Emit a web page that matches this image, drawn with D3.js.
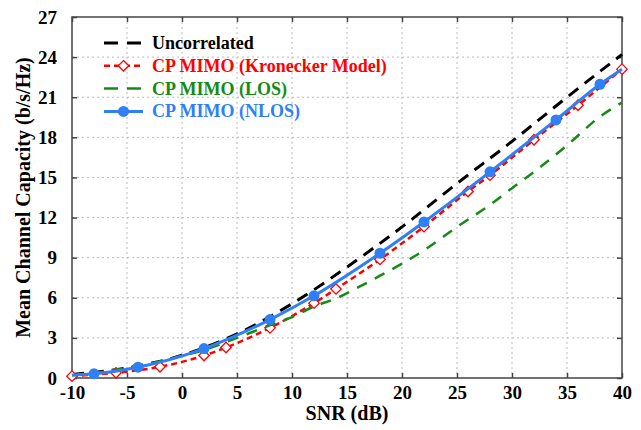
<!DOCTYPE html>
<html>
<head>
<meta charset="utf-8">
<script src="https://cdn.jsdelivr.net/npm/d3@7"></script>
<style>
  body { margin: 0; background: #fff; }
  text { font-family: "Liberation Serif", "Times New Roman", serif; font-weight: bold; }
</style>
</head>
<body>
<div id="my_dataviz"></div>
<script>
// data
var xTicks = [-10, -5, 0, 5, 10, 15, 20, 25, 30, 35, 40];
var yTicks = [0, 3, 6, 9, 12, 15, 18, 21, 24, 27];

var snrUncorr = [-10, -5, 0, 5, 10, 15, 20, 25, 30, 35, 40];
var capUncorr = [0.27, 0.75, 1.7, 3.3, 5.55, 8.3, 11.3, 14.55, 17.7, 21.0, 24.2];

var snrKron = [-10, -6, -2, 2, 4, 8, 12, 14, 18, 22, 26, 28, 32, 36, 40];
var capKron = [0.14, 0.39, 0.84, 1.68, 2.28, 3.75, 5.6, 6.66, 8.87, 11.32, 13.95, 15.17, 17.82, 20.4, 23.1];

var snrLos = [-10, -5, 0, 2, 5, 8, 10, 12, 14, 16, 18, 20, 22, 25, 28, 30, 32, 35, 38, 40];
var capLos = [0.2, 0.75, 1.65, 2.1, 3.0, 3.95, 4.55, 5.35, 5.95, 6.77, 7.65, 8.55, 9.55, 11.3, 12.95, 14.2, 15.42, 17.4, 19.55, 20.6];

var snrNlos = [-10, -8, -4, 2, 8, 12, 18, 22, 28, 34, 38, 40];
var capNlos = [0.2, 0.31, 0.81, 2.2, 4.37, 6.15, 9.33, 11.67, 15.42, 19.3, 21.97, 23.1];
var nlosMarkers = [-8, -4, 2, 8, 12, 18, 22, 28, 34, 38];

var series = [
  {name: "Uncorrelated", x: snrUncorr, y: capUncorr, color: "#000000", dash: "12,8", width: 3, marker: null},
  {name: "CP MIMO (Kronecker Model)", x: snrKron, y: capKron, color: "#ff0000", dash: "6,4", width: 2.5, marker: "diamond", markAt: snrKron},
  {name: "CP MIMO (LOS)", x: snrLos, y: capLos, color: "#168a16", dash: "11,9", width: 2.5, marker: null},
  {name: "CP MIMO (NLOS)", x: snrNlos, y: capNlos, color: "#2f7ff7", dash: null, width: 3, marker: "circle", markAt: nlosMarkers}
];

// set the dimensions and margins of the graph
var margin = {top: 17, right: 19, bottom: 52, left: 72},
    width = 641 - margin.left - margin.right,
    height = 430 - margin.top - margin.bottom;

var svg = d3.select("#my_dataviz")
  .append("svg")
    .attr("width", 641)
    .attr("height", 430)
  .append("g")
    .attr("transform", "translate(" + margin.left + "," + margin.top + ")");

var x = d3.scaleLinear().domain([-10, 40]).range([0, width]);
var y = d3.scaleLinear().domain([0, 27]).range([height, 0]);

// grid
svg.append("g").selectAll("line").data(xTicks.slice(1, -1)).enter().append("line")
  .attr("x1", function(d) { return x(d); }).attr("x2", function(d) { return x(d); })
  .attr("y1", 0).attr("y2", height)
  .attr("stroke", "#bbb").attr("stroke-width", 1).attr("stroke-dasharray", "2,3");
svg.append("g").selectAll("line").data(yTicks.slice(1, -1)).enter().append("line")
  .attr("y1", function(d) { return y(d); }).attr("y2", function(d) { return y(d); })
  .attr("x1", 0).attr("x2", width)
  .attr("stroke", "#bbb").attr("stroke-width", 1).attr("stroke-dasharray", "2,3");

// axes, ticks pointing inward on all sides
var plain = function(d) { return String(d); };
function styleAxis(g) {
  g.select(".domain").remove();
  g.selectAll(".tick line").attr("stroke", "#444").attr("stroke-width", 1.5);
  g.selectAll("text").attr("fill", "#000").style("font-size", "19px");
}
svg.append("g").attr("transform", "translate(0," + height + ")")
  .call(d3.axisBottom(x).tickValues(xTicks).tickFormat(plain).tickSizeInner(-5).tickSizeOuter(0).tickPadding(8))
  .call(styleAxis);
svg.append("g")
  .call(d3.axisLeft(y).tickValues(yTicks).tickFormat(plain).tickSizeInner(-5).tickSizeOuter(0).tickPadding(15))
  .call(styleAxis);
svg.append("g")
  .call(d3.axisTop(x).tickValues(xTicks).tickSizeInner(-5).tickSizeOuter(0).tickFormat(""))
  .call(styleAxis);
svg.append("g").attr("transform", "translate(" + width + ",0)")
  .call(d3.axisRight(y).tickValues(yTicks).tickSizeInner(-5).tickSizeOuter(0).tickFormat(""))
  .call(styleAxis);

svg.append("rect").attr("width", width).attr("height", height)
  .attr("fill", "none").attr("stroke", "#444").attr("stroke-width", 1.5);

// curves
var line = d3.line()
  .x(function(d) { return x(d[0]); })
  .y(function(d) { return y(d[1]); })
  .curve(d3.curveMonotoneX);

var diamond = d3.symbol().type(d3.symbolDiamond2).size(70);

series.forEach(function(s) {
  var pts = s.x.map(function(v, i) { return [v, s.y[i]]; });
  svg.append("path")
    .datum(pts)
    .attr("d", line)
    .attr("fill", "none")
    .attr("stroke", s.color)
    .attr("stroke-width", s.width)
    .attr("stroke-dasharray", s.dash);
  if (s.marker) {
    var mp = pts.filter(function(p) { return s.markAt.indexOf(p[0]) >= 0; });
    if (s.marker === "circle") {
      svg.selectAll(null).data(mp).enter().append("circle")
        .attr("cx", function(d) { return x(d[0]); })
        .attr("cy", function(d) { return y(d[1]); })
        .attr("r", 5.5)
        .attr("fill", s.color);
    } else {
      svg.selectAll(null).data(mp).enter().append("path")
        .attr("d", diamond)
        .attr("transform", function(d) { return "translate(" + x(d[0]) + "," + y(d[1]) + ")"; })
        .attr("fill", "#fff")
        .attr("stroke", s.color)
        .attr("stroke-width", 1.3);
    }
  }
});

// legend
var legend = svg.append("g").attr("transform", "translate(32,26)");
series.forEach(function(s, i) {
  var g = legend.append("g").attr("transform", "translate(0," + (i * 22.8) + ")");
  g.append("line").attr("x1", 0).attr("x2", 39).attr("y1", 0).attr("y2", 0)
    .attr("stroke", s.color).attr("stroke-width", s.width)
    .attr("stroke-dasharray", s.dash ? (i === 1 ? "6,4" : "14,9") : null);
  if (s.marker === "circle") {
    g.append("circle").attr("cx", 19.5).attr("cy", 0).attr("r", 5.5).attr("fill", s.color);
  } else if (s.marker === "diamond") {
    g.append("path").attr("d", diamond).attr("transform", "translate(19.5,0)")
      .attr("fill", "#fff").attr("stroke", s.color).attr("stroke-width", 1.3);
  }
  g.append("text").attr("x", 48).attr("y", 6)
    .style("font-size", "18px").attr("fill", s.color)
    .text(s.name);
});

// axis titles
svg.append("text")
  .attr("x", width / 2).attr("y", height + 42)
  .attr("text-anchor", "middle").style("font-size", "20px")
  .text("SNR (dB)");
svg.append("text")
  .attr("transform", "translate(-42," + (height / 2) + ") rotate(-90)")
  .attr("text-anchor", "middle").style("font-size", "20px")
  .text("Mean Channel Capacity (b/s/Hz)");
</script>
</body>
</html>
